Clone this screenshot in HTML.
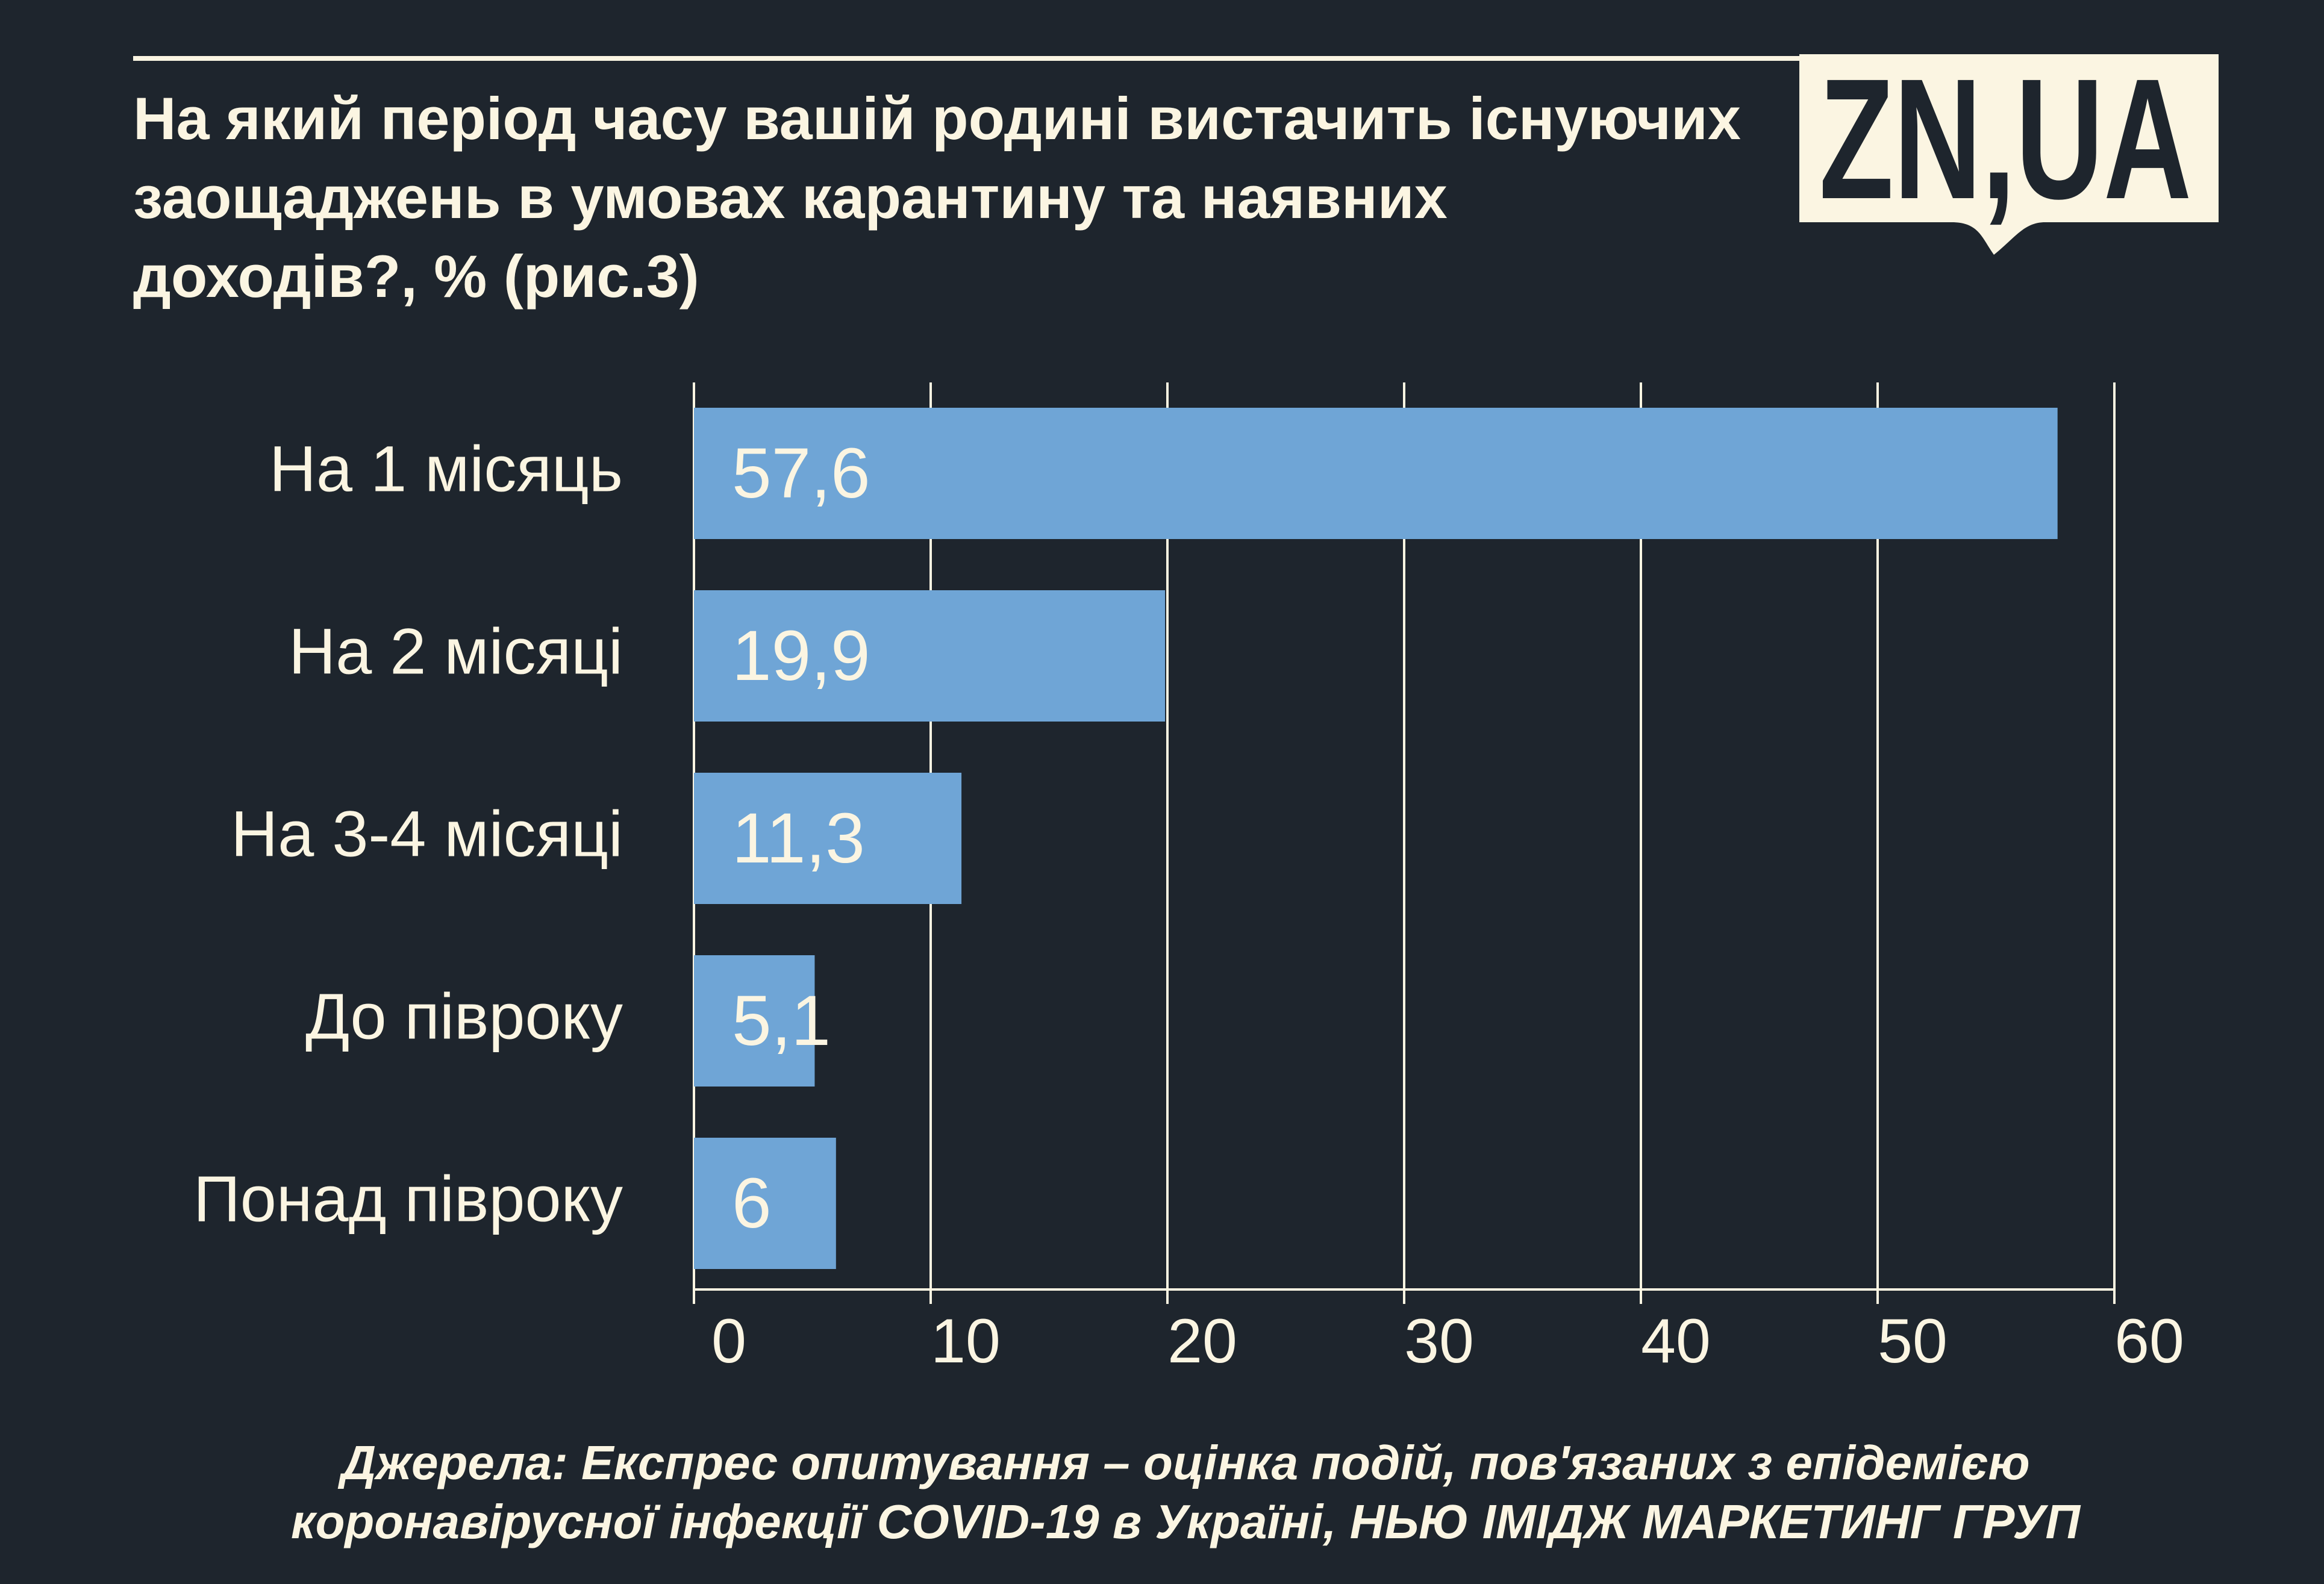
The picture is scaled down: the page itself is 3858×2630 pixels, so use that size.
<!DOCTYPE html>
<html><head><meta charset="utf-8"><style>
html,body{margin:0;padding:0}
body{width:3858px;height:2630px;background:#1e252d;position:relative;overflow:hidden;font-family:"Liberation Sans","DejaVu Sans",sans-serif;color:#fbf5e2}
.t{position:absolute;white-space:nowrap}
</style></head><body>
<div style="position:absolute;left:221px;top:93px;width:2770px;height:8px;background:#fbf5e2"></div>
<div class="t" style="left:221px;top:131px;font-size:99px;font-weight:bold;line-height:131px">На який період часу вашій родині вистачить існуючих<br>заощаджень в умовах карантину та наявних<br>доходів?, % (рис.3)</div>
<svg style="position:absolute;left:0;top:0" width="3858" height="450">
<path d="M2987 90 H3683 V369 H3395 C3360 369 3345 395 3310 423 C3290 395 3285 369 3240 369 H2987 Z" fill="#fbf5e2"/>
<text x="3020" y="329" font-family="Liberation Sans" font-weight="bold" font-size="285" fill="#1e252d" transform="translate(3020 0) scale(0.71 1) translate(-3020 0)">ZN,UA</text>
</svg>
<svg id="chart" style="position:absolute;left:0;top:0" width="3858" height="2630"></svg>
<div class="t" style="left:0;width:3936px;top:2380px;text-align:center;font-size:80px;font-weight:bold;font-style:italic;line-height:98px">Джерела: Експрес опитування – оцінка подій, пов'язаних з епідемією<br>коронавірусної інфекції COVID-19 в Україні, НЬЮ ІМІДЖ МАРКЕТИНГ ГРУП</div>
<script>
const categories=["На 1 місяць","На 2 місяці","На 3-4 місяці","До півроку","Понад півроку"];
const values=[57.6,19.9,11.3,5.1,6];
const valueLabels=["57,6","19,9","11,3","5,1","6"];
const ticks=[0,10,20,30,40,50,60];
const NS="http://www.w3.org/2000/svg";
const svg=document.getElementById('chart');
const x0=1152,pxPer=393/10,gTop=635,gBottom=2141,band0=677,pitch=303,bh=218;
const xs=v=>x0+v*pxPer;
function mk(t,a){const e=document.createElementNS(NS,t);for(const k in a)e.setAttribute(k,a[k]);svg.appendChild(e);return e;}
ticks.forEach((t,i)=>{
 const g=mk('line',{x1:xs(t),x2:xs(t),y1:gTop,y2:gBottom+24,stroke:'#fbf5e2','stroke-width':4});
 
 
 const l=mk('text',{x:xs(t)+58,y:2227,'font-size':104,fill:'#fbf5e2','text-anchor':'middle','dominant-baseline':'central','font-family':'Liberation Sans'});
 l.textContent=t;
 
 
});
const ax=mk('line',{x1:x0,x2:xs(60),y1:gBottom,y2:gBottom,stroke:'#fbf5e2','stroke-width':4});


categories.forEach((c,i)=>{
 const y=band0+i*pitch;
 const r=mk('rect',{x:x0,y:y,width:xs(values[i])-x0,height:bh,fill:'#6fa5d6'});
 
 
 const v=mk('text',{x:1215,y:y+bh/2,'font-size':118,fill:'#fbf5e2','dominant-baseline':'central','font-family':'Liberation Sans'});
 v.textContent=valueLabels[i];
 
 
 const cl=mk('text',{x:1034,y:y+bh/2-8,'font-size':108,fill:'#fbf5e2','text-anchor':'end','dominant-baseline':'central','font-family':'Liberation Sans'});
 cl.textContent=c;
 
 
});
</script>
</body></html>
